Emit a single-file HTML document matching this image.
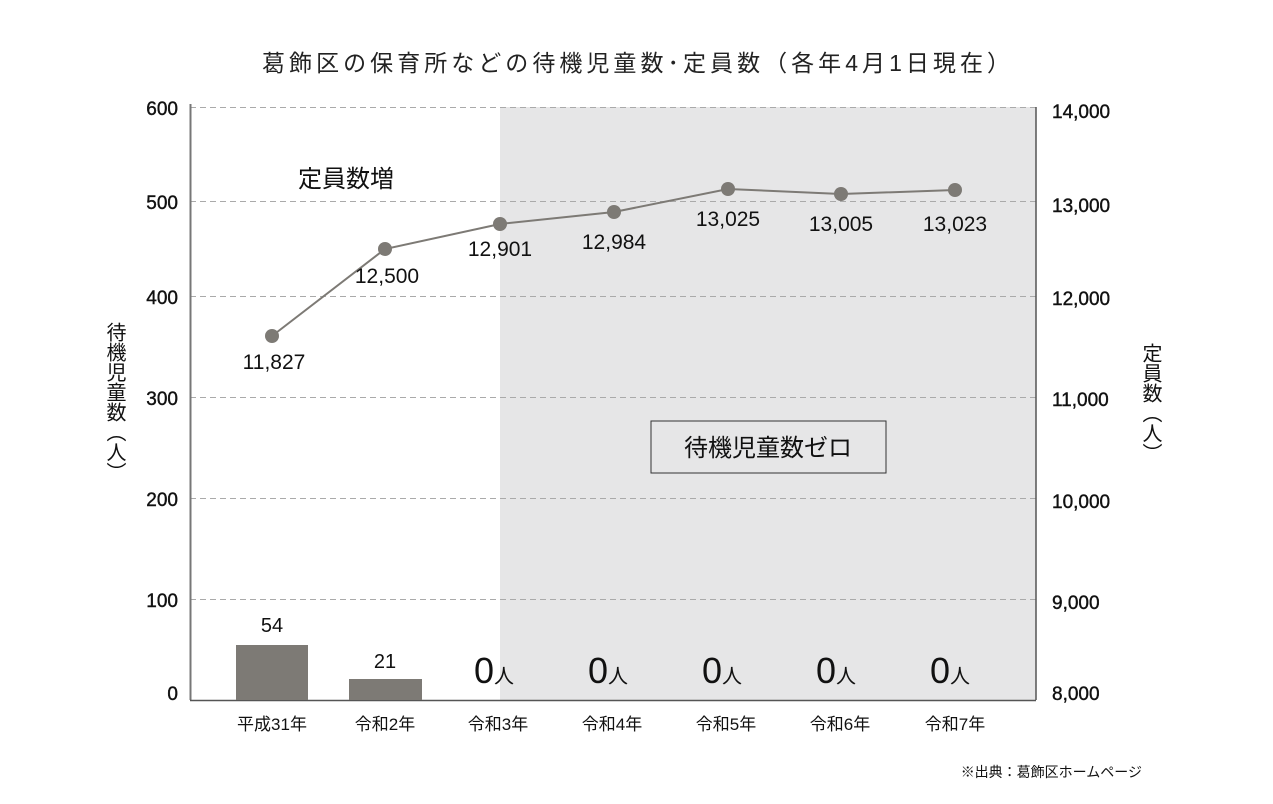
<!DOCTYPE html>
<html><head><meta charset="utf-8"><style>
html,body{margin:0;padding:0;background:#fff;}
svg{display:block;font-family:"Liberation Sans","Noto Sans CJK JP",sans-serif;}
</style></head><body>
<svg width="1273" height="804" viewBox="0 0 1273 804" xmlns="http://www.w3.org/2000/svg">
<rect width="1273" height="804" fill="#fff"/>
<text x="636" y="71" font-size="23" text-anchor="middle" fill="#222" textLength="748" lengthAdjust="spacing">葛飾区の保育所などの待機児童数･定員数（各年4月1日現在）</text>
<rect x="500" y="107" width="536" height="593" fill="#e6e6e7"/>
<g stroke="#aaa" stroke-width="1" stroke-dasharray="6,4">
<line x1="190" y1="107.5" x2="1036" y2="107.5"/>
<line x1="190" y1="201.5" x2="1036" y2="201.5"/>
<line x1="190" y1="296.5" x2="1036" y2="296.5"/>
<line x1="190" y1="397.5" x2="1036" y2="397.5"/>
<line x1="190" y1="498.5" x2="1036" y2="498.5"/>
<line x1="190" y1="599.5" x2="1036" y2="599.5"/>
</g>
<line x1="190.5" y1="104" x2="190.5" y2="700" stroke="#777" stroke-width="2"/>
<line x1="190" y1="700.5" x2="1036" y2="700.5" stroke="#555" stroke-width="1.5"/>
<line x1="1036" y1="107" x2="1036" y2="700" stroke="#555" stroke-width="1.5"/>
<g font-size="19" fill="#111" text-anchor="end" stroke="#111" stroke-width="0.4">
<text x="178" y="115">600</text><text x="178" y="209">500</text><text x="178" y="304">400</text>
<text x="178" y="405">300</text><text x="178" y="506">200</text><text x="178" y="607">100</text><text x="178" y="700">0</text>
</g>
<g font-size="19" fill="#111" text-anchor="start" stroke="#111" stroke-width="0.4">
<text x="1052" y="118">14,000</text><text x="1052" y="212">13,000</text><text x="1052" y="305">12,000</text>
<text x="1052" y="406">11,000</text><text x="1052" y="508">10,000</text><text x="1052" y="609">9,000</text><text x="1052" y="700">8,000</text>
</g>
<text font-size="20" fill="#111" x="114" y="322" style="writing-mode:vertical-rl">待機児童数（人）</text>
<text font-size="20" fill="#111" x="1150" y="343" style="writing-mode:vertical-rl">定員数（人）</text>
<rect x="236" y="645" width="72" height="55" fill="#7d7a75"/>
<rect x="349" y="679" width="73" height="21" fill="#7d7a75"/>
<text x="272" y="632" font-size="20" text-anchor="middle" fill="#111">54</text>
<text x="385" y="668" font-size="20" text-anchor="middle" fill="#111">21</text>
<g fill="#111"><text x="474" y="683" font-size="36">0<tspan font-size="20">人</tspan></text>
<text x="588" y="683" font-size="36">0<tspan font-size="20">人</tspan></text>
<text x="702" y="683" font-size="36">0<tspan font-size="20">人</tspan></text>
<text x="816" y="683" font-size="36">0<tspan font-size="20">人</tspan></text>
<text x="930" y="683" font-size="36">0<tspan font-size="20">人</tspan></text></g>
<polyline points="272,336 385,249 500,224 614,212 728,189 841,194 955,190" fill="none" stroke="#7d7a75" stroke-width="2"/>
<g fill="#7d7a75"><circle cx="272" cy="336" r="7"/><circle cx="385" cy="249" r="7"/><circle cx="500" cy="224" r="7"/><circle cx="614" cy="212" r="7"/><circle cx="728" cy="189" r="7"/><circle cx="841" cy="194" r="7"/><circle cx="955" cy="190" r="7"/></g>
<g font-size="21" fill="#111" text-anchor="middle">
<text x="274" y="369">11,827</text><text x="387" y="283">12,500</text><text x="500" y="256">12,901</text>
<text x="614" y="249">12,984</text><text x="728" y="226">13,025</text><text x="841" y="231">13,005</text><text x="955" y="231">13,023</text>
</g>
<text x="346" y="187" font-size="24" text-anchor="middle" fill="#111">定員数増</text>
<rect x="651" y="421" width="235" height="52" fill="#e6e6e7" stroke="#333" stroke-width="1"/>
<text x="768" y="456" font-size="24" text-anchor="middle" fill="#111">待機児童数ゼロ</text>
<g font-size="17" fill="#111" text-anchor="middle">
<text x="272" y="730">平成31年</text><text x="385" y="730">令和2年</text><text x="498" y="730">令和3年</text>
<text x="612" y="730">令和4年</text><text x="726" y="730">令和5年</text><text x="840" y="730">令和6年</text><text x="955" y="730">令和7年</text>
</g>
<text x="1142" y="777" font-size="14" text-anchor="end" fill="#111">※出典：葛飾区ホームページ</text>
</svg>
</body></html>
